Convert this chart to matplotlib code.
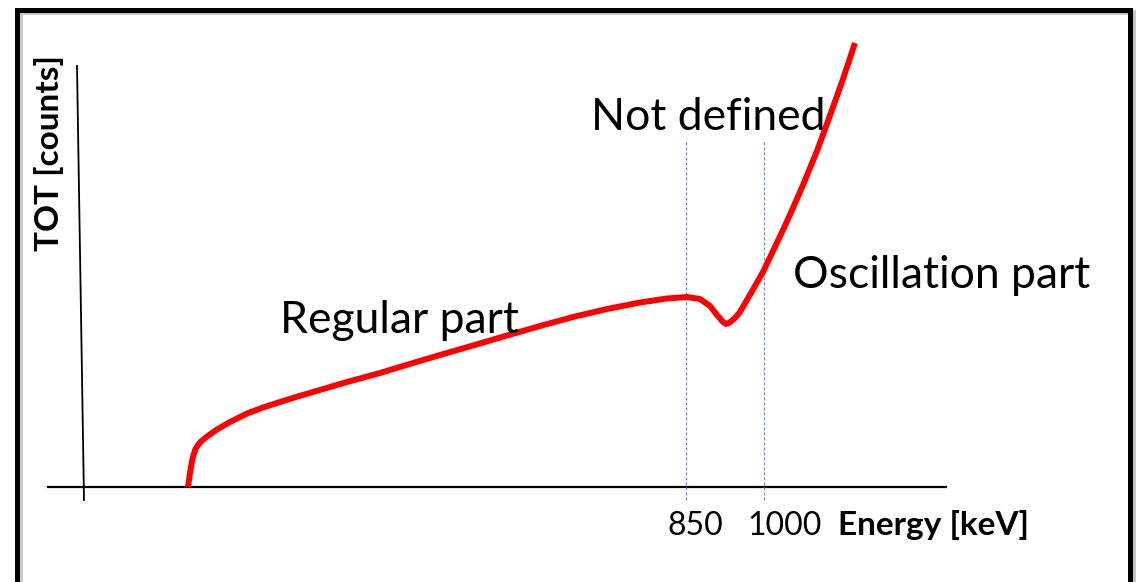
import numpy as np
import matplotlib.pyplot as plt
from matplotlib.patches import Rectangle

# schematic TOT vs energy, axes units are arbitrary (0,0 at the axes crossing)
curve_x = [104, 106, 108, 109.5, 111.5, 114, 117, 123, 133, 146, 163, 179, 196, 213,
           229, 263, 296, 329, 356, 389, 423, 456, 489, 523, 556, 583, 603, 616,
           626, 633, 639, 642, 645, 651, 656, 667, 679, 689, 699, 709, 719, 733,
           744, 758, 771]
curve_y = [0, 14, 26, 32, 38, 42, 45.5, 50.5, 57.5, 65, 73.5, 79.5, 85, 90.3,
           95, 105, 114, 124, 132, 141.5, 151.5, 161, 170, 178, 184.5, 188.5, 190, 188,
           181, 172, 165, 163, 164, 169, 175, 194, 215, 236, 257, 279, 302, 336,
           366, 405, 444]

marker_x = [602, 680]
marker_labels = ['850', '1000']

region_labels = ['Regular part', 'Not defined', 'Oscillation part']
region_x = [315, 624, 858]
region_y = [154, 357, 199]

fig = plt.figure(figsize=(11.42, 5.82), dpi=100)
ax = fig.add_axes([0, 0, 1, 1])
ax.set_xlim(-84, 1058)
ax.set_ylim(-95, 487)
ax.axis('off')

font = 'Lato'

# outer frame with a faint shadow
ax.add_patch(Rectangle((-64, -120), 1113, 595, fill=False, ec='#c8c8c8', lw=3.6, clip_on=False))
ax.add_patch(Rectangle((-67, -120), 1113, 597, fill=False, ec='black', lw=3.6, clip_on=False))

# hand drawn axes
ax.plot([-36, 862], [0, 0], color='black', lw=1.6)
ax.plot([-7, 0], [421, -13], color='black', lw=1.3)

for mx in marker_x:
    ax.plot([mx, mx], [-13, 347], color='#5b9bd5', lw=0.9, linestyle=(0, (2.5, 1.5)))

ax.plot(curve_x, curve_y, color='#ff0000', lw=4.3, solid_joinstyle='round', solid_capstyle='butt')

for lab, tx, ty in zip(region_labels, region_x, region_y):
    ax.text(tx, ty, lab, ha='center', va='baseline', fontsize=32, family=font)

for mx, lab, off in zip(marker_x, marker_labels, [9, 21]):
    ax.text(mx + off, -48, lab, ha='center', va='baseline', fontsize=23, family=font)

ax.text(850, -48, 'Energy [keV]', ha='center', va='baseline', fontsize=24, family=font, fontweight='bold')
ax.text(-35, 334, 'TOT [counts]', ha='center', va='center', rotation=90, fontsize=24,
        family=font, fontweight='bold')

fig.savefig('out.png', dpi=100)
